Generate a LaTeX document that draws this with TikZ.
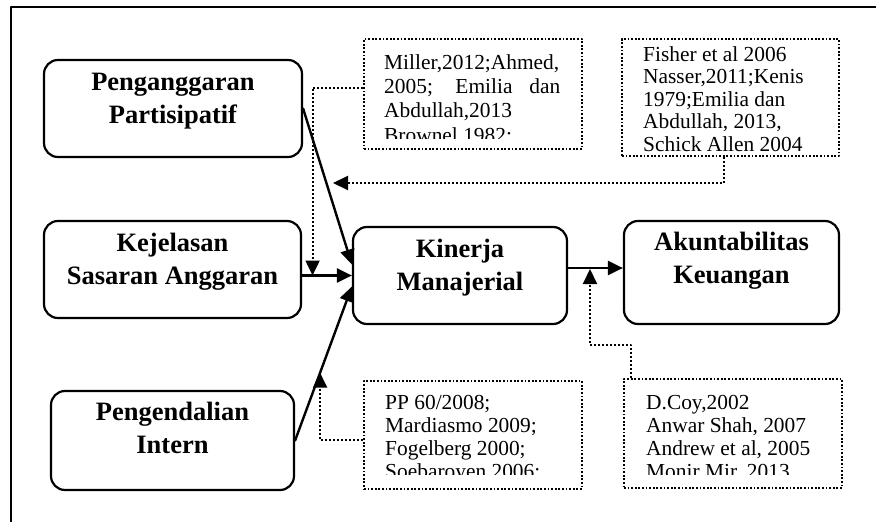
\documentclass[tikz,border=0pt]{standalone}
\usepackage{fontspec}
\setmainfont{Liberation Serif}
\usetikzlibrary{arrows.meta,calc}

\begin{document}
\begin{tikzpicture}[line cap=round,line join=round,x=1pt,y=-1pt,
	kotak/.style={draw,line width=2.2pt,rounded corners=14pt,inner sep=0pt},
	judul/.style={align=center,inner sep=0pt,anchor=base,font=\fontsize{26.5}{33}\selectfont\bfseries},
	rujukan/.style={draw,line width=1.8pt,dash pattern=on 1.8pt off 1.8pt,line cap=butt,inner sep=0pt},
	isi/.style={align=left,inner sep=0pt,anchor=base west},
	panah/.style={line width=2.4pt,-{Triangle[length=15pt,width=14pt]}},
	titik/.style={line width=2pt,dash pattern=on 2pt off 2pt,line cap=butt,-{Triangle[length=15pt,width=14pt]}}]
	\useasboundingbox (0,0) rectangle (876,522);
	% bingkai
	\draw[line width=2pt,line cap=butt] (11,522)--(11,7)--(876,7);
	% variabel (teks: garis dasar baris terakhir)
	\node[kotak,minimum width=258pt,minimum height=97pt] (pang) at (173,108.5) {};
	\node[judul] (pangteks) at (173,123) {Penganggaran\\Partisipatif};
	\node[kotak,minimum width=257pt,minimum height=97pt] (kej) at (172.5,269.5) {};
	\node[judul] (kejteks) at (172.5,284) {Kejelasan\\Sasaran Anggaran};
	\node[kotak,minimum width=243pt,minimum height=99pt] (peng) at (172.5,440.5) {};
	\node[judul] (pengteks) at (172.5,453) {Pengendalian\\Intern};
	\node[kotak,minimum width=214pt,minimum height=97pt] (kin) at (460,275.5) {};
	\node[judul] (kinteks) at (460,290) {Kinerja\\Manajerial};
	\node[kotak,minimum width=215pt,minimum height=103pt] (aku) at (731.5,272.5) {};
	\node[judul] (akuteks) at (731.5,283) {Akuntabilitas\\Keuangan};
	% rujukan
	\node[rujukan,minimum width=218pt,minimum height=110pt] (mil) at (473,94) {};
	\begin{scope}
		\clip (364,39) rectangle (582,138);
		\node[isi,font=\fontsize{21.4}{24.3}\selectfont] (milteks) at (384,142) {Miller,2012;Ahmed,\\\makebox[176pt][s]{2005; Emilia dan}\\Abdullah,2013\\Brownel,1982;};
	\end{scope}
	\node[rujukan,minimum width=217pt,minimum height=117pt] (fis) at (730.5,97.5) {};
	\begin{scope}
		\clip (622,39) rectangle (839,157);
		\node[isi,font=\fontsize{21.4}{22.5}\selectfont] (fisteks) at (643,151) {Fisher et al 2006\\Nasser,2011;Kenis\\1979;Emilia dan\\Abdullah, 2013,\\Schick Allen 2004};
	\end{scope}
	\node[rujukan,minimum width=218pt,minimum height=108pt] (pp) at (473,435) {};
	\begin{scope}
		\clip (364,381) rectangle (582,474);
		\node[isi,font=\fontsize{21.4}{23}\selectfont] (ppteks) at (385,478) {PP 60/2008;\\Mardiasmo 2009;\\Fogelberg 2000;\\Soebaroyen 2006;};
	\end{scope}
	\node[rujukan,minimum width=218pt,minimum height=109pt] (coy) at (733,433.5) {};
	\begin{scope}
		\clip (624,379) rectangle (842,474);
		\node[isi,font=\fontsize{21.4}{23}\selectfont] (coyteks) at (646,478) {D.Coy,2002\\Anwar Shah, 2007\\Andrew et al, 2005\\Monir Mir, 2013};
	\end{scope}
	% hubungan
	\draw[panah] (pang.east)--([yshift=11pt]kin.west);
	\draw[panah] (kej.east |- kin.west)--(kin.west);
	\draw[panah] (peng.east)--([yshift=-11pt]kin.west);
	\draw[panah] ([yshift=7.5pt]kin.east)--([yshift=7.5pt]kin.east -| aku.west);
	% titik ujung panah rujukan
	\coordinate (mk) at ($(kej.east |- kin.west)!0.21!(kin.west)$);
	\coordinate (fk) at (333,183);
	\coordinate (pk) at ($(peng.east)!0.44!([yshift=-11pt]kin.west)$);
	\coordinate (ck) at (590,269);
	\draw[titik] ([yshift=6pt]mil.west) -| (mk);
	\draw[titik] ([xshift=-7pt]fis.south) |- (fk);
	\draw[titik] ([yshift=-5pt]pp.west) -| (pk);
	\draw[titik] ([xshift=8pt]coy.north west) -- ++(0,-33) -| (ck);
\end{tikzpicture}
\end{document}
